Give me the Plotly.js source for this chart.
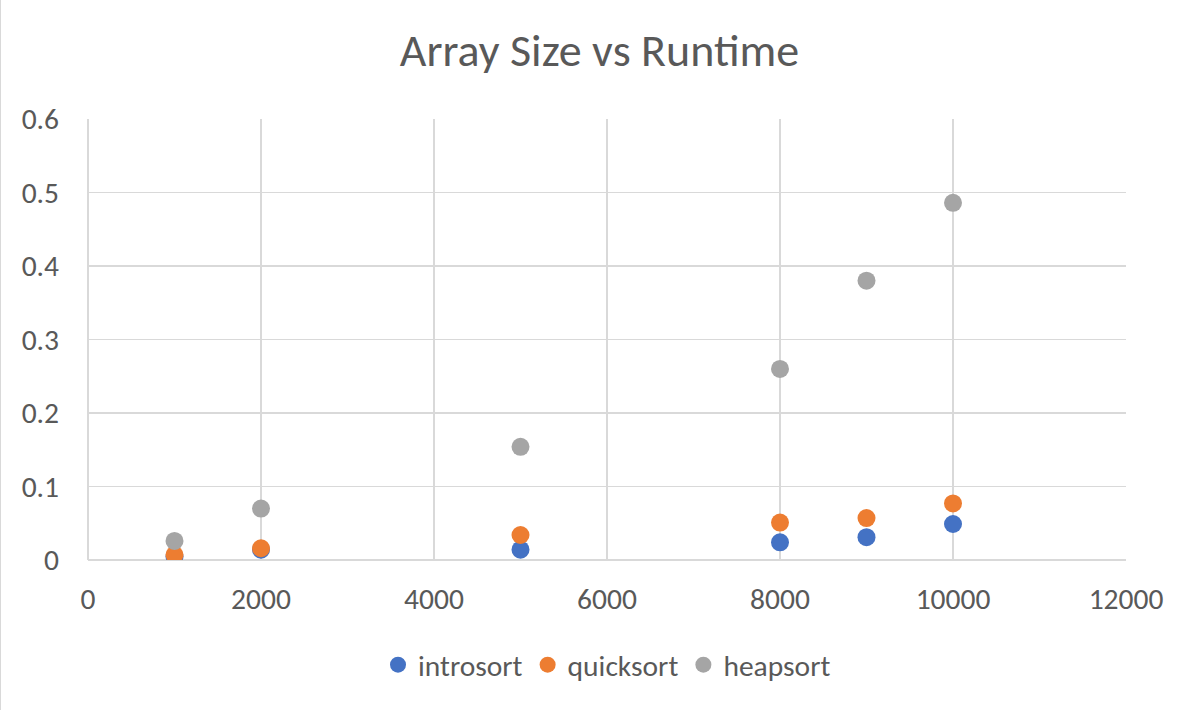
<!DOCTYPE html>
<html>
<head>
<meta charset="utf-8">
<script src="https://cdn.plot.ly/plotly-3.0.1.min.js"></script>
<style>
html,body{margin:0;padding:0;background:#fff;}
#chart{width:1197px;height:710px;box-sizing:border-box;border-left:1px solid #d9d9d9;}
</style>
</head>
<body>
<div id="chart"></div>
<script>
const arraySizes = [1000, 2000, 5000, 8000, 9000, 10000];
const introsort = [0.005, 0.014, 0.014, 0.024, 0.031, 0.049];
const quicksort = [0.007, 0.016, 0.034, 0.051, 0.057, 0.077];
const heapsort = [0.026, 0.070, 0.154, 0.260, 0.380, 0.486];
const seriesNames = ["introsort", "quicksort", "heapsort"];
const seriesColors = ["#4472C4", "#ED7D31", "#A5A5A5"];
const xTicks = [0, 2000, 4000, 6000, 8000, 10000, 12000];
const yTicks = [0, 0.1, 0.2, 0.3, 0.4, 0.5, 0.6];

const font = "Carlito, Calibri, 'Open Sans', 'Noto Sans', sans-serif";
const traces = [introsort, quicksort, heapsort].map((ys, i) => ({
  type: "scatter", mode: "markers", name: seriesNames[i],
  x: arraySizes, y: ys,
  marker: {color: seriesColors[i], size: 18}
}));

const layout = {
  width: 1197, height: 710,
  margin: {l: 87, r: 72, t: 119, b: 150},
  paper_bgcolor: "#fff", plot_bgcolor: "#fff",
  font: {family: font, color: "#595959", size: 29.5},
  title: {text: "Array Size vs Runtime", font: {family: font, size: 46, color: "#595959"}, x: 0.5, xanchor: "center", y: 0.93, yanchor: "middle"},
  xaxis: {range: [0, 12000], tickvals: xTicks, ticktext: xTicks.map(String), showgrid: true, gridcolor: "#d9d9d9", gridwidth: 1.5,
          zeroline: false, showline: false, ticks: "", tickfont: {size: 29.5, color: "#595959"}, ticklabelstandoff: 18},
  yaxis: {range: [0, 0.6], tickvals: yTicks, ticktext: yTicks.map(v => v === 0 ? "0" : v.toFixed(1)), showgrid: true, gridcolor: "#d9d9d9", gridwidth: 1.5,
          zeroline: false, showline: false, ticks: "", tickfont: {size: 29.5, color: "#595959"}, ticklabelstandoff: 28},
  shapes: [
    {type: "line", xref: "paper", yref: "paper", x0: 0, x1: 1, y0: 0, y1: 0, line: {color: "#d9d9d9", width: 2}, layer: "below"},
    {type: "line", xref: "paper", yref: "paper", x0: 0, x1: 0, y0: 0, y1: 1, line: {color: "#d9d9d9", width: 2}, layer: "below"}
  ],
  legend: {orientation: "h", x: 0.5, xanchor: "center", y: -0.238, yanchor: "middle", font: {size: 29.5, color: "#595959"}, itemsizing: "trace", tracegroupgap: 0},
  showlegend: true
};
Plotly.newPlot("chart", traces, layout, {displayModeBar: false, staticPlot: true});
</script>
</body>
</html>
